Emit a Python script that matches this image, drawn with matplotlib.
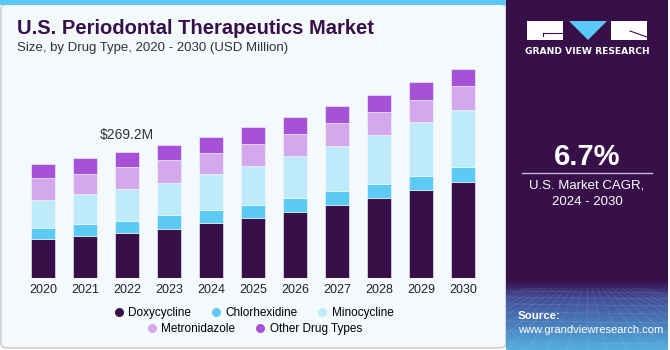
import numpy as np
import matplotlib
matplotlib.use("Agg")
import matplotlib.pyplot as plt
from matplotlib.patches import Rectangle, FancyBboxPatch, Polygon
from matplotlib.lines import Line2D

# data (USD Million)
years = ["2020", "2021", "2022", "2023", "2024", "2025", "2026", "2027", "2028", "2029", "2030"]
doxycycline = [82.9, 89.3, 97.0, 105.0, 117.2, 128.5, 140.7, 155.7, 172.0, 189.1, 205.6]
chlorhexidine = [24.2, 26.3, 25.1, 29.3, 28.5, 28.5, 31.3, 30.0, 29.3, 29.3, 32.1]
minocycline = [60.0, 63.6, 69.2, 69.8, 77.1, 83.5, 90.0, 96.4, 105.0, 115.0, 121.4]
metronidazole = [47.8, 44.1, 45.8, 48.0, 45.0, 47.1, 46.5, 50.6, 49.3, 48.4, 52.0]
other_types = [30.0, 33.0, 32.1, 33.4, 33.6, 35.1, 35.8, 35.1, 36.4, 37.3, 35.8]
series_names = ["Doxycycline", "Chlorhexidine", "Minocycline", "Metronidazole", "Other Drug Types"]
colors = ["#37104A", "#5BCBF5", "#BDEBFA", "#D4A8EC", "#A552D6"]
label_year = 2  # 2022 gets the value label
label_text = "$269.2M"

W, H = 670, 350
fig = plt.figure(figsize=(W / 100, H / 100), dpi=100)
fig.patch.set_facecolor("white")

def fx(px):
    return px / W

def fy(py):
    return 1 - py / H

# left panel background + top stripe
fig.patches.append(FancyBboxPatch((fx(1), fy(348)), fx(505), fy(4) - fy(348),
                                  boxstyle="round,pad=0,rounding_size=0.012",
                                  transform=fig.transFigure, facecolor="#F4F9FC",
                                  edgecolor="#CFCFCF", linewidth=1.2, zorder=0))
fig.patches.append(Rectangle((fx(0), fy(5)), fx(506), fy(0) - fy(5), transform=fig.transFigure,
                             facecolor="#5BC8F2", edgecolor="none", zorder=1))

# right panel
rp = fig.add_axes([fx(506), 0, fx(162), 1])
rp.set_zorder(2)
top = np.array([0x37, 0x10, 0x4A]) / 255
mid = np.array([0x40, 0x4E, 0x98]) / 255
bot = np.array([0x55, 0xB0, 0xE2]) / 255
img = np.zeros((350, 1, 3))
for py in range(350):
    if py < 280:
        img[py, 0] = top
    elif py < 298:
        t = (py - 280) / 18
        img[py, 0] = top * (1 - t) + mid * t
    else:
        t = (py - 298) / 52
        img[py, 0] = mid * (1 - t) + bot * t
rp.imshow(img, aspect="auto", extent=(0, 162, 350, 0))
# faint perspective grid in the bottom band
for k in range(-12, 13):
    rp.plot([81 + k * 5, 81 + k * 20], [288, 350], color="white", alpha=0.13, lw=0.5)
for yy in [291, 297, 304, 312, 321, 331, 342]:
    rp.plot([0, 162], [yy, yy + 2], color="white", alpha=0.13, lw=0.5)
rp.set_xlim(0, 162)
rp.set_ylim(350, 0)
rp.axis("off")

# logo
rp.add_patch(Rectangle((21, 21), 36, 19, facecolor="white", edgecolor="none"))
rp.plot([37, 57], [33, 33], color="#37104A", lw=0.8)
rp.plot([37, 37], [33, 36], color="#37104A", lw=0.8)
rp.add_patch(Polygon([[63, 21], [101, 21], [82, 40]], closed=True, facecolor="#5BC8F5", edgecolor="none"))
rp.add_patch(Rectangle((105, 21), 36, 19, facecolor="white", edgecolor="none"))
rp.plot([124, 141], [31, 37], color="#37104A", lw=0.8)
rp.text(81, 51, "GRAND VIEW RESEARCH", color="white", fontsize=6.6, fontweight="bold",
        ha="center", va="center", family="DejaVu Sans")

rp.text(81, 157, "6.7%", color="white", fontsize=21, fontweight="bold", ha="center", va="center",
        family="Liberation Sans")
rp.plot([16, 146], [173, 173], color="#C9B8D4", lw=1)
rp.text(81, 186, "U.S. Market CAGR,", color="white", fontsize=9.5, ha="center", va="center",
        family="Liberation Sans")
rp.text(81, 202, "2024 - 2030", color="white", fontsize=9.5, ha="center", va="center",
        family="Liberation Sans")
rp.text(12, 316, "Source:", color="white", fontsize=8.2, fontweight="bold", ha="left", va="center",
        family="Liberation Sans")
rp.text(12, 330, "www.grandviewresearch.com", color="white", fontsize=8.0, ha="left", va="center",
        family="Liberation Sans")

# title
fig.text(fx(17), fy(29), "U.S. Periodontal Therapeutics Market", fontsize=14.5, fontweight="bold",
         color="#37104A", ha="left", va="center", family="Liberation Sans")
fig.text(fx(17), fy(48), "Size, by Drug Type, 2020 - 2030 (USD Million)", fontsize=9.5,
         color="#333333", ha="left", va="center", family="Liberation Sans")

# bars
ax = fig.add_axes([fx(10), fy(278), fx(486), fy(60) - fy(278)])
ax.set_zorder(3)
ax.set_facecolor("none")
x = np.arange(len(years))
bottom = np.zeros(len(years))
series = [doxycycline, chlorhexidine, minocycline, metronidazole, other_types]
for vals, name, c in zip(series, series_names, colors):
    ax.bar(x, vals, width=0.58, bottom=bottom, color=c, edgecolor="#F4F9FC", linewidth=0.4, label=name)
    bottom = bottom + np.array(vals)
ax.text(x[label_year], bottom[label_year] + 38, label_text, ha="center", va="center", fontsize=10,
        color="#333333", family="Liberation Sans")
ax.set_xlim(-0.786, 10.786)
ax.set_ylim(0, 467)
ax.set_xticks(x)
ax.set_xticklabels(years, fontsize=9, color="#222222", family="Liberation Sans")
ax.tick_params(axis="x", length=0, pad=4)
ax.set_yticks([])
for s in ax.spines.values():
    s.set_visible(False)

handles = [Line2D([], [], marker="o", linestyle="none", markersize=6.5, markerfacecolor=c,
                  markeredgecolor="none") for c in colors]
kw = dict(frameon=False, handletextpad=0.3, columnspacing=1.6, handlelength=1.0,
          prop={"family": "Liberation Sans", "size": 8.5}, loc="center")
fig.legend(handles[:3], series_names[:3], ncol=3, bbox_to_anchor=(fx(253), fy(313)), **kw)
fig.legend(handles[3:], series_names[3:], ncol=2, bbox_to_anchor=(fx(254), fy(329)), **kw)

fig.savefig("out.png", dpi=100, facecolor=fig.get_facecolor())
